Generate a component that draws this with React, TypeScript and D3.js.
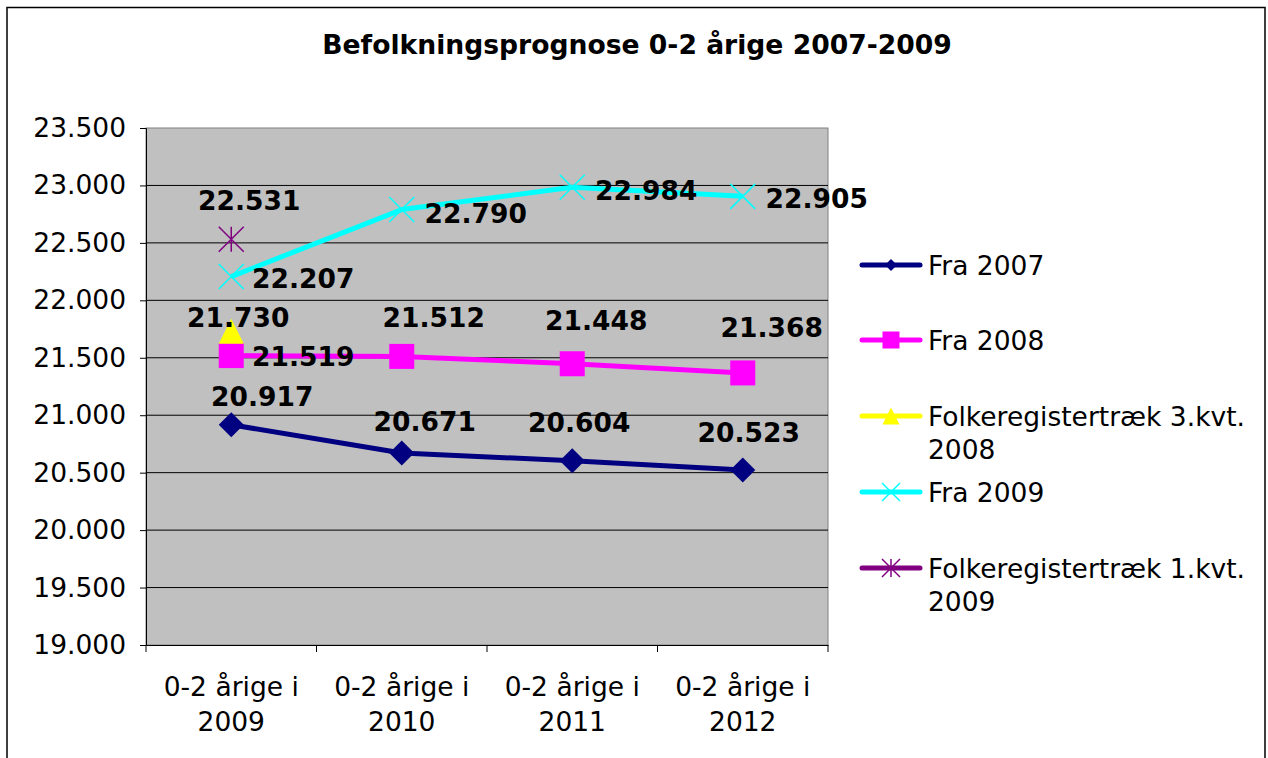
import { useEffect, useRef } from 'react';
import * as d3 from 'd3';

// categories and series
const categories = ['0-2 årige i 2009', '0-2 årige i 2010', '0-2 årige i 2011', '0-2 årige i 2012'];
const fra2007 = [20917, 20671, 20604, 20523];
const fra2008 = [21519, 21512, 21448, 21368];
const folke3kvt2008 = [21730, null, null, null];
const fra2009 = [22207, 22790, 22984, 22905];
const folke1kvt2009 = [22531, null, null, null];
const yTicks = [19000, 19500, 20000, 20500, 21000, 21500, 22000, 22500, 23000, 23500];

const series = [
  { name: 'Fra 2007', lines: ['Fra 2007'], values: fra2007, color: '#000080', marker: 'diamond' },
  { name: 'Fra 2008', lines: ['Fra 2008'], values: fra2008, color: '#FF00FF', marker: 'square' },
  { name: 'Folkeregistertræk 3.kvt. 2008', lines: ['Folkeregistertræk 3.kvt.', '2008'], values: folke3kvt2008, color: '#FFFF00', marker: 'triangle' },
  { name: 'Fra 2009', lines: ['Fra 2009'], values: fra2009, color: '#00FFFF', marker: 'x' },
  { name: 'Folkeregistertræk 1.kvt. 2009', lines: ['Folkeregistertræk 1.kvt.', '2009'], values: folke1kvt2009, color: '#800080', marker: 'star' },
];

// where each data label sits relative to its point (label centre offset)
const labelOffsets = [
  [[31, -28], [23, -32], [7, -38], [6, -38]],
  [[72, 1], [32, -39], [24, -43], [29, -45]],
  [[7, -14]],
  [[72, 2], [74, 4], [74, 3], [74, 2]],
  [[18, -39]],
];

const legendY = [265, 340, 416, 492, 568];

const fmt = d3.formatLocale({ decimal: ',', thousands: '.', grouping: [3], currency: ['', ''] }).format(',');

function drawMarker(g, type, x, y, s, color) {
  if (type === 'diamond') {
    g.append('path').attr('d', `M${x},${y - s}L${x + s},${y}L${x},${y + s}L${x - s},${y}Z`).attr('fill', color);
  } else if (type === 'square') {
    g.append('rect').attr('x', x - s).attr('y', y - s).attr('width', s * 2).attr('height', s * 2).attr('fill', color);
  } else if (type === 'triangle') {
    g.append('path').attr('d', `M${x},${y - s}L${x + s},${y + s}L${x - s},${y + s}Z`).attr('fill', color);
  } else if (type === 'x') {
    g.append('path').attr('d', `M${x - s},${y - s}L${x + s},${y + s}M${x + s},${y - s}L${x - s},${y + s}`)
      .attr('stroke', color).attr('stroke-width', 1.5);
  } else if (type === 'star') {
    g.append('path').attr('d', `M${x - s},${y - s}L${x + s},${y + s}M${x + s},${y - s}L${x - s},${y + s}M${x},${y - s}L${x},${y + s}`)
      .attr('stroke', color).attr('stroke-width', 1.5);
  }
}

const App = () => {
  const svgRef = useRef(null);

  useEffect(() => {
    const width = 1268, height = 758;
    const left = 146, right = 828, top = 128, bottom = 645;
    const font = '"DejaVu Sans", Verdana, sans-serif';

    const svg = d3.select(svgRef.current);
    svg.selectAll('*').remove();
    svg.attr('width', width).attr('height', height);

    svg.append('rect').attr('width', width).attr('height', height).attr('fill', '#fff');
    // outer frame (bottom edge runs off the picture)
    svg.append('path').attr('d', `M7,${height + 5}V7.5H1265V${height + 5}`)
      .attr('fill', 'none').attr('stroke', '#000').attr('stroke-width', 1.5);

    svg.append('text').attr('x', 637).attr('y', 54).attr('text-anchor', 'middle')
      .attr('font-family', font).attr('font-weight', 'bold').attr('font-size', 26.6)
      .text('Befolkningsprognose 0-2 årige 2007-2009');

    const x = d3.scaleBand().domain(categories).range([left, right]);
    const cx = (c) => x(c) + x.bandwidth() / 2;
    const y = d3.scaleLinear().domain([19000, 23500]).range([bottom, top]);

    // plot area
    svg.append('rect').attr('x', left).attr('y', top).attr('width', right - left).attr('height', bottom - top)
      .attr('fill', '#C0C0C0').attr('stroke', '#808080').attr('stroke-width', 1);

    // gridlines
    svg.append('g').selectAll('line').data(yTicks.filter((t) => t > 19000 && t < 23500)).enter()
      .append('line').attr('x1', left).attr('x2', right).attr('y1', (d) => y(d)).attr('y2', (d) => y(d))
      .attr('stroke', '#000').attr('stroke-width', 1);

    // y axis
    const yAxis = svg.append('g').attr('transform', `translate(${left},0)`)
      .call(d3.axisLeft(y).tickValues(yTicks).tickFormat(fmt).tickSize(6).tickPadding(14));
    yAxis.select('.domain').attr('stroke', '#000');
    yAxis.selectAll('text').attr('font-family', font).attr('font-size', 26.5).attr('fill', '#000');

    // x axis
    const xAxis = svg.append('g').attr('transform', `translate(0,${bottom})`)
      .call(d3.axisBottom(x).tickSize(0).tickFormat(() => ''));
    xAxis.select('.domain').attr('stroke', '#000');
    xAxis.selectAll('line').remove();
    const edges = [...categories.map((c) => x(c)), right];
    svg.append('g').selectAll('line').data(edges).enter().append('line')
      .attr('x1', (d) => d).attr('x2', (d) => d).attr('y1', bottom).attr('y2', bottom + 7)
      .attr('stroke', '#000').attr('stroke-width', 1);

    categories.forEach((c) => {
      const parts = c.split(' i ');
      const t = svg.append('text').attr('text-anchor', 'middle').attr('font-family', font).attr('font-size', 26.5);
      t.append('tspan').attr('x', cx(c)).attr('y', 696).text(parts[0] + ' i');
      t.append('tspan').attr('x', cx(c)).attr('y', 731).text(parts[1]);
    });

    // series
    const plot = svg.append('g');
    series.forEach((s) => {
      const pts = s.values.map((v, i) => ({ v, c: categories[i], i })).filter((d) => d.v != null);
      const line = d3.line().x((d) => cx(d.c)).y((d) => y(d.v));
      if (pts.length > 1) {
        plot.append('path').datum(pts).attr('d', line).attr('fill', 'none')
          .attr('stroke', s.color).attr('stroke-width', 5).attr('stroke-linejoin', 'round');
      }
      pts.forEach((d) => drawMarker(plot, s.marker, cx(d.c), y(d.v), 12.5, s.color));
    });

    // data labels
    series.forEach((s, si) => {
      s.values.forEach((v, i) => {
        if (v == null) return;
        const [dx, dy] = labelOffsets[si][i];
        svg.append('text').attr('x', cx(categories[i]) + dx).attr('y', y(v) + dy).attr('dy', '0.36em')
          .attr('text-anchor', 'middle').attr('font-family', font).attr('font-weight', 'bold')
          .attr('font-size', 26.5).attr('fill', '#000').text(fmt(v));
      });
    });

    // legend
    const legendSizes = { diamond: 6, square: 8.5, triangle: 8.5, x: 9, star: 9 };
    series.forEach((s, si) => {
      const ly = legendY[si];
      const g = svg.append('g');
      g.append('line').attr('x1', 862).attr('x2', 920).attr('y1', ly).attr('y2', ly)
        .attr('stroke', s.color).attr('stroke-width', 5).attr('stroke-linecap', 'round');
      drawMarker(g, s.marker, 891, ly, legendSizes[s.marker], s.color);
      s.lines.forEach((ln, li) => {
        g.append('text').attr('x', 928).attr('y', ly + li * 33).attr('dy', '0.36em')
          .attr('font-family', font).attr('font-size', 26.5).attr('fill', '#000').text(ln);
      });
    });
  }, []);

  return <svg ref={svgRef} style={{ position: 'absolute', left: 0, top: 0 }}></svg>;
};

export default App;
